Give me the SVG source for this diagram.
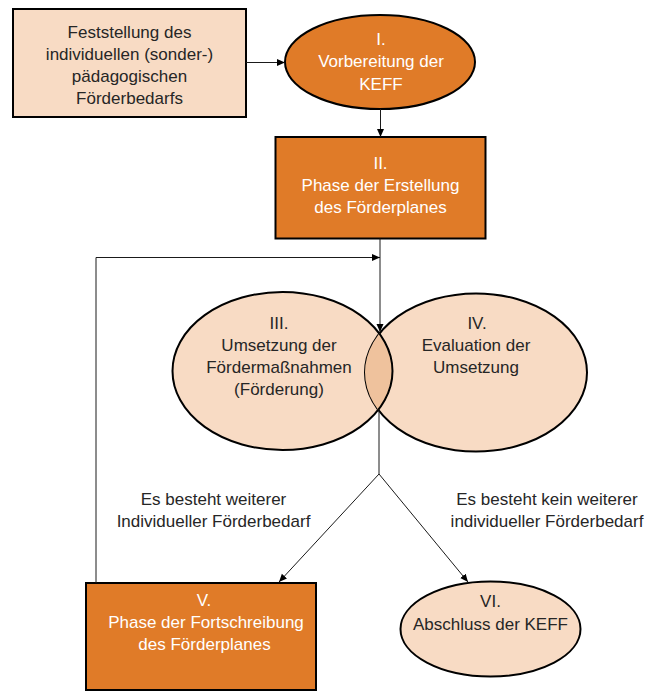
<svg xmlns="http://www.w3.org/2000/svg" width="648" height="692" viewBox="0 0 648 692">
  <style>
    .t { font-family: "Liberation Sans", Arial, sans-serif; font-size: 17px; text-anchor: middle; }
    .dark { fill: #262626; }
    .light { fill: #ffffff; }
    .orange { fill: #E07B28; stroke: #000; stroke-width: 2; }
    .peach { fill: #F8DBC4; stroke: #000; stroke-width: 2; }
    .conn { fill: none; stroke: #1a1a1a; stroke-width: 1; }
  </style>
  <defs>
    <marker id="arrow" markerUnits="userSpaceOnUse" markerWidth="9" markerHeight="8" refX="8" refY="3.5" orient="auto">
      <path d="M0,0 L8,3.5 L0,7 z" fill="#000"/>
    </marker>
    <clipPath id="clipIV">
      <ellipse cx="476" cy="372.5" rx="111" ry="79"/>
    </clipPath>
  </defs>
  <rect width="648" height="692" fill="#ffffff"/>

  <g id="node-feststellung">
    <rect x="13" y="9" width="233" height="108" class="peach"/>
    <text class="t dark" x="129.5" y="38">Feststellung des</text>
    <text class="t dark" x="129.5" y="60">individuellen (sonder-)</text>
    <text class="t dark" x="129.5" y="82">pädagogischen</text>
    <text class="t dark" x="129.5" y="104">Förderbedarfs</text>
  </g>

  <g id="node-I">
    <ellipse cx="380" cy="62" rx="95" ry="47" class="orange"/>
    <text class="t light" x="381" y="45">I.</text>
    <text class="t light" x="381" y="67">Vorbereitung der</text>
    <text class="t light" x="381" y="89.5">KEFF</text>
  </g>

  <g id="node-II">
    <rect x="275.5" y="137" width="210" height="101.5" class="orange"/>
    <text class="t light" x="380.5" y="169">II.</text>
    <text class="t light" x="380.5" y="191">Phase der Erstellung</text>
    <text class="t light" x="380.5" y="213">des Förderplanes</text>
  </g>

  <g id="node-III">
    <ellipse cx="282.5" cy="371" rx="110" ry="79" class="peach"/>
    <text class="t dark" x="279" y="328.5">III.</text>
    <text class="t dark" x="279" y="350.5">Umsetzung der</text>
    <text class="t dark" x="279" y="372.5">Fördermaßnahmen</text>
    <text class="t dark" x="279" y="394.5">(Förderung)</text>
  </g>

  <g id="node-IV">
    <ellipse cx="476" cy="372.5" rx="111" ry="79" class="peach"/>
    <ellipse cx="282.5" cy="371" rx="110" ry="79" clip-path="url(#clipIV)" fill="#EFC29D" stroke="#000" stroke-width="2"/>
    <text class="t dark" x="477" y="328.5">IV.</text>
    <text class="t dark" x="476" y="350.5">Evaluation der</text>
    <text class="t dark" x="476" y="372.5">Umsetzung</text>
  </g>

  <g id="node-V">
    <rect x="86" y="583" width="230" height="107" class="orange"/>
    <text class="t light" x="204" y="606">V.</text>
    <text class="t light" x="206" y="628">Phase der Fortschreibung</text>
    <text class="t light" x="204.5" y="650">des Förderplanes</text>
  </g>

  <g id="node-VI">
    <ellipse cx="490.5" cy="629" rx="90" ry="47.5" class="peach"/>
    <text class="t dark" x="490.5" y="607">VI.</text>
    <text class="t dark" x="490.5" y="630">Abschluss der KEFF</text>
  </g>

  <g id="connectors">
    <path class="conn" d="M246,62.5 L285,62.5" marker-end="url(#arrow)"/>
    <path class="conn" d="M380.5,109 L380.5,137" marker-end="url(#arrow)"/>
    <path class="conn" d="M380,238.5 L380,332" marker-end="url(#arrow)"/>
    <path class="conn" d="M96,583 L96,257.5 L380,257.5" marker-end="url(#arrow)"/>
    <path class="conn" d="M379,409 L379,474"/>
    <path class="conn" d="M379,474 L279,582" marker-end="url(#arrow)"/>
    <path class="conn" d="M379,474 L468,582" marker-end="url(#arrow)"/>
  </g>

  <g id="labels">
    <text class="t dark" x="213.5" y="505">Es besteht weiterer</text>
    <text class="t dark" x="213.5" y="527">Individueller Förderbedarf</text>
    <text class="t dark" x="547" y="505">Es besteht kein weiterer</text>
    <text class="t dark" x="547" y="527">individueller Förderbedarf</text>
  </g>
</svg>
